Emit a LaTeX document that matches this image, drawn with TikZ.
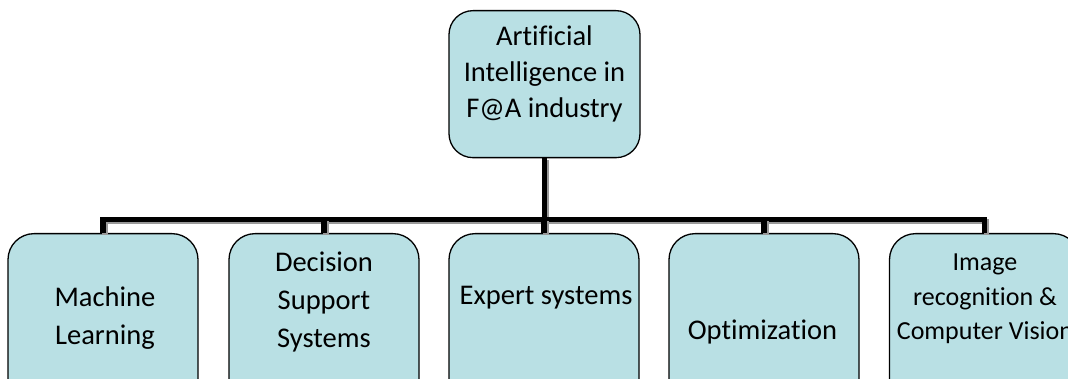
\documentclass[tikz,border=0pt]{standalone}
\usepackage{fontspec}
\setmainfont{Carlito}[Ligatures=NoCommon]
\usetikzlibrary{positioning}
\definecolor{boxfill}{RGB}{185,224,228}

\begin{document}
\begin{tikzpicture}[
    x=1pt, y=-1pt,
    every node/.style={inner sep=0pt},
    box/.style={draw=black, line width=1.3pt, fill=boxfill, rounded corners=26pt, minimum width=190pt, minimum height=187pt, anchor=north},
    boxtext/.style={align=center, font=\fontsize{28.5}{38}\selectfont},
    smalltext/.style={align=center, font=\fontsize{26}{34.5}\selectfont},
    link/.style={line width=5.5pt, line join=miter, draw=black, preaction={draw=black!40, line width=5.5pt, transform canvas={shift={(2pt,-2pt)}}}}
]
\clip (0,0) rectangle (1068,379);

\node[box, minimum width=191pt, minimum height=147pt, rounded corners=24pt] (ai) at (544.5,10) {};
\node[box] (ml) at (103,233) {};
\node[box] (ds) at (324,233) {};
\node[box] (es) at (544,233) {};
\node[box] (op) at (764,233) {};
\node[box] (ir) at (984.5,233) {};

\node[boxtext, font=\fontsize{28.5}{36}\selectfont] (ait) at (544.5,74) {Artificial\\Intelligence in\\F@A industry};
\node[boxtext] (mlt) at (105,318) {Machine\\Learning};
\node[boxtext] (dst) at (324,302) {Decision\\Support\\Systems};
\node[boxtext] (est) at (546,298) {Expert systems};
\node[boxtext] (opt) at (762.5,332) {Optimization};
\node[smalltext] (irt) at (985,299) {Image\\recognition \&\\Computer Vision};

\coordinate (bus) at (544,219.5);

\draw[link] (ai.south) -- (ai.south |- bus);
\draw[link] (ml.north) -- (ml.north |- bus) -- (ir.north |- bus) -- (ir.north);
\draw[link] (ds.north) -- (ds.north |- bus);
\draw[link] (es.north) -- (es.north |- bus);
\draw[link] (op.north) -- (op.north |- bus);
\end{tikzpicture}
\end{document}
